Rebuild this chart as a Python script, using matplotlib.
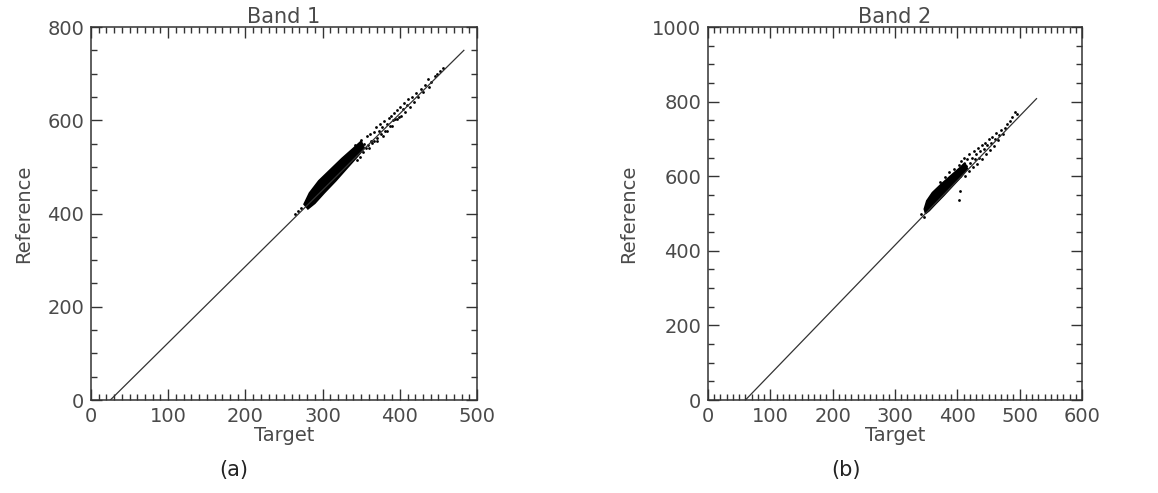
import numpy as np
import matplotlib
matplotlib.use("Agg")
import matplotlib.pyplot as plt
from matplotlib.ticker import MultipleLocator

# fitted lines (target, reference) end points
band1_line_x = [25, 483]
band1_line_y = [0, 750]
band2_line_x = [60, 527]
band2_line_y = [0, 808]

# dense core of each scatter cloud (outline)
band1_core_x = [276, 283, 295, 310, 325, 340, 350, 354, 345, 332, 317, 302, 290, 281]
band1_core_y = [420, 444, 470, 494, 518, 540, 555, 540, 522, 498, 470, 444, 422, 410]
band2_core_x = [347, 351, 360, 375, 390, 405, 412, 416, 407, 393, 378, 364, 355, 349]
band2_core_y = [512, 534, 556, 580, 602, 624, 636, 620, 600, 575, 548, 524, 508, 500]

# scattered points outside the core
band1_pts_x = [264, 268, 272, 286, 342, 344, 346, 348, 350, 352, 354, 356, 357, 359, 360,
               361, 363, 364, 366, 367, 369, 370, 371, 373, 374, 376, 377, 378, 380, 381,
               383, 384, 386, 387, 389, 390, 391, 393, 394, 396, 397, 399, 400, 402, 404,
               405, 407, 409, 411, 413, 416, 418, 421, 424, 427, 430, 433, 436, 438, 441,
               445, 448, 452, 456]
band1_pts_y = [398, 405, 412, 438, 548, 514, 540, 522, 558, 532, 550, 540, 566, 548, 540,
               570, 556, 552, 575, 556, 585, 562, 556, 578, 592, 570, 585, 566, 598, 578,
               592, 578, 605, 588, 610, 588, 600, 616, 602, 602, 622, 608, 628, 610, 624,
               638, 618, 632, 645, 628, 650, 640, 658, 650, 666, 660, 675, 688, 672, 682,
               694, 700, 706, 712]
band2_pts_x = [342, 346, 402, 386, 372, 404, 395, 380, 402, 404, 406, 408, 410, 412, 414,
               416, 418, 419, 421, 423, 425, 426, 428, 430, 431, 433, 435, 437, 439, 440,
               442, 444, 446, 448, 450, 452, 454, 456, 458, 460, 462, 465, 467, 470, 473,
               476, 480, 484, 488, 492, 495]
band2_pts_y = [500, 492, 536, 610, 585, 560, 620, 598, 630, 600, 640, 612, 650, 600, 628,
               645, 615, 660, 635, 650, 625, 668, 645, 660, 632, 675, 650, 668, 685, 645,
               672, 690, 660, 684, 700, 670, 690, 706, 682, 700, 715, 698, 710, 725, 712,
               730, 740, 748, 760, 772, 768]

panels = [
    dict(title="Band 1", xmax=500, ymax=800, cap="(a)",
         lx=band1_line_x, ly=band1_line_y, cx=band1_core_x, cy=band1_core_y,
         px=band1_pts_x, py=band1_pts_y, rect=[0.0786, 0.1886, 0.3333, 0.7566]),
    dict(title="Band 2", xmax=600, ymax=1000, cap="(b)",
         lx=band2_line_x, ly=band2_line_y, cx=band2_core_x, cy=band2_core_y,
         px=band2_pts_x, py=band2_pts_y, rect=[0.6114, 0.1886, 0.3230, 0.7566]),
]

txt = "#4a4a4a"
fig = plt.figure(figsize=(11.58, 4.93), dpi=100)

for p in panels:
    ax = fig.add_axes(p["rect"])
    ax.plot(p["lx"], p["ly"], color="#333333", lw=0.9)
    ax.fill(p["cx"], p["cy"], color="black", lw=1.2, ec="black")
    ax.scatter(p["px"], p["py"], s=4, color="black", lw=0)
    ax.set_xlim(0, p["xmax"])
    ax.set_ylim(0, p["ymax"])
    ax.xaxis.set_major_locator(MultipleLocator(100))
    ax.xaxis.set_minor_locator(MultipleLocator(10))
    ax.yaxis.set_major_locator(MultipleLocator(200))
    ax.yaxis.set_minor_locator(MultipleLocator(50))
    ax.tick_params(which="both", direction="in", top=True, right=True,
                   colors="#333333", labelcolor=txt, labelsize=14, width=1)
    ax.tick_params(which="major", length=8, pad=5)
    ax.tick_params(which="minor", length=4)
    for s in ax.spines.values():
        s.set_color("#333333")
        s.set_linewidth(1.1)
    ax.set_xlabel("Target", fontsize=14, color=txt, labelpad=0)
    ax.set_ylabel("Reference", fontsize=14, color=txt, labelpad=10)
    ax.set_title(p["title"], fontsize=15, color=txt, pad=0)
    fig.text(p["rect"][0] + p["rect"][2] * 0.37, 0.035, p["cap"], fontsize=15,
             color="#222222", ha="center")

fig.savefig("out.png", dpi=100)
